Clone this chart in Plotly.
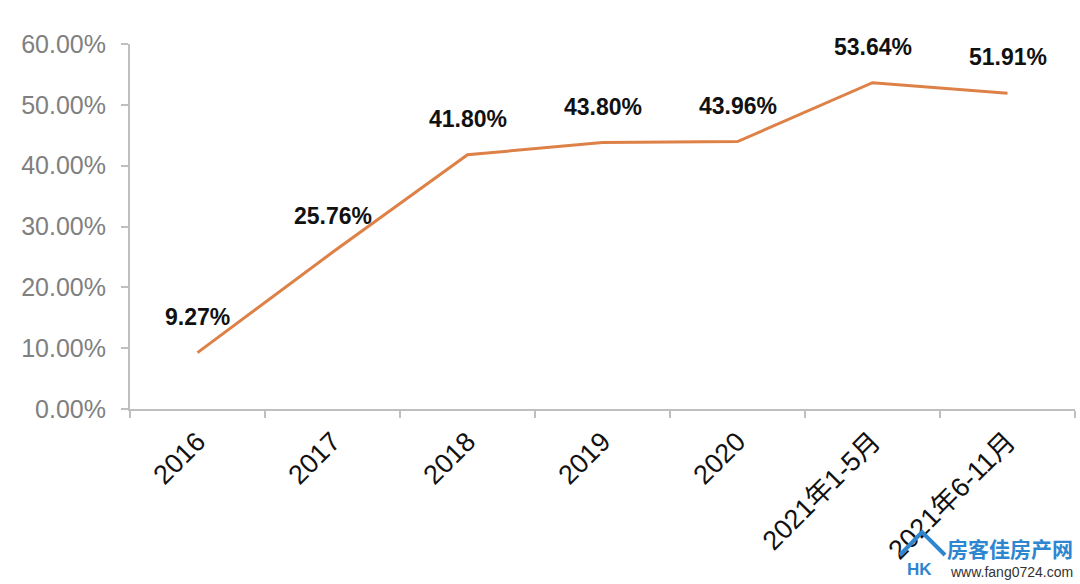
import plotly.graph_objects as go

categories = ["2016", "2017", "2018", "2019", "2020", "2021年1-5月", "2021年6-11月"]
values = [9.27, 25.76, 41.80, 43.80, 43.96, 53.64, 51.91]
y_ticks = [0, 10, 20, 30, 40, 50, 60]
y_tick_labels = [f"{v:.2f}%" for v in y_ticks]

FONT = "Liberation Sans, Noto Sans CJK SC, sans-serif"
LINE_COLOR = "#DD8147"
AXIS_COLOR = "#BFBFBF"
WM_BLUE = "#2E86D1"

fig = go.Figure()
fig.add_trace(go.Scatter(
    x=categories, y=values, mode="lines",
    line=dict(color=LINE_COLOR, width=3),
    hoverinfo="skip", showlegend=False,
))

for i, v in enumerate(values):
    fig.add_annotation(
        x=i, y=v, xref="x", yref="y",
        text=f"<b>{v:.2f}%</b>", showarrow=False,
        yshift=36, font=dict(family=FONT, size=23, color="#111111"),
    )

# watermark
fig.add_annotation(xref="paper", yref="paper", x=1.0, y=-0.381, xanchor="right", yanchor="middle",
                   text="<b>房客佳房产网</b>", showarrow=False,
                   font=dict(family="Noto Sans CJK SC", size=21, color=WM_BLUE))
fig.add_annotation(xref="paper", yref="paper", x=1.0, y=-0.447, xanchor="right", yanchor="middle",
                   text="www.fang0724.com", showarrow=False,
                   font=dict(family=FONT, size=14, color="#333333"))
fig.add_annotation(xref="paper", yref="paper", x=0.835, y=-0.44, xanchor="center", yanchor="middle",
                   text="<b>HK</b>", showarrow=False,
                   font=dict(family=FONT, size=17, color=WM_BLUE))
fig.add_shape(type="path", xref="paper", yref="paper",
              path="M 0.8148 -0.40 L 0.8381 -0.337 L 0.8624 -0.40",
              line=dict(color=WM_BLUE, width=4))

fig.update_layout(
    width=1080, height=584,
    margin=dict(l=130, r=5, t=44, b=175),
    paper_bgcolor="white", plot_bgcolor="white",
    font=dict(family=FONT),
    xaxis=dict(
        type="category", range=[-0.5, 6.5],
        showline=True, linecolor=AXIS_COLOR, linewidth=2,
        ticks="outside", tickson="boundaries", ticklen=7, tickcolor=AXIS_COLOR, tickwidth=1.5,
        tickangle=-45, tickfont=dict(family=FONT, size=27, color="#111111"),
        ticklabelstandoff=4,
        showgrid=False, zeroline=False,
    ),
    yaxis=dict(
        range=[0, 60], tickvals=y_ticks, ticktext=y_tick_labels,
        showline=True, linecolor=AXIS_COLOR, linewidth=2,
        ticks="outside", ticklen=7, tickcolor=AXIS_COLOR, tickwidth=1.5,
        tickfont=dict(family=FONT, size=25, color="#808080"),
        ticklabelstandoff=10,
        showgrid=False, zeroline=False,
    ),
)

fig.write_html("out.html")
